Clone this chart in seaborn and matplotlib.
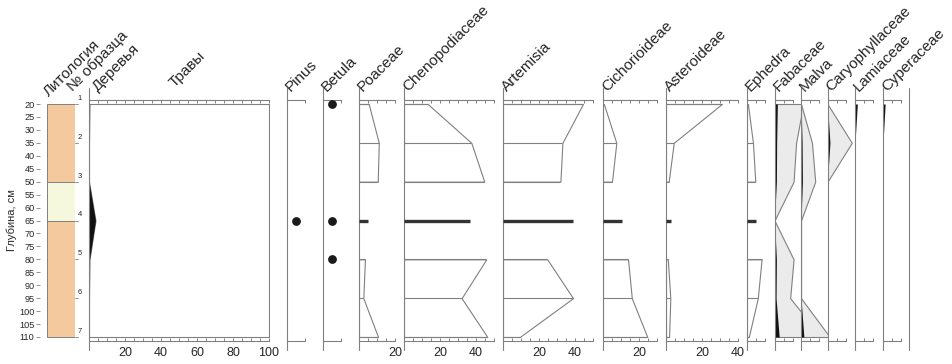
import matplotlib
matplotlib.use('Agg')
import matplotlib.pyplot as plt
import seaborn as sns
import numpy as np
from matplotlib.ticker import FixedLocator, FuncFormatter

# --- data ---
DEPTHS = [20, 35, 50, 65, 80, 95, 110]
SAMPLES = ['1', '2', '3', '4', '5', '6', '7']
SEGMENTS = [[0, 1, 2], [3], [4, 5, 6]]   # zone breaks around sample 4

LITHO_TOPS = [20, 50, 65]
LITHO_BOTS = [50, 65, 110]
LITHO_COLORS = ['#F4C99E', '#F6F8DD', '#F4C99E']

TREES = [0.3, 0.0, 0.0, 3.6, 0.3, 0.0, 0.0]
PINUS = [0, 0, 0, 1, 0, 0, 0]
BETULA = [1, 0, 0, 1, 1, 0, 0]
POACEAE = [5.4, 11.0, 10.4, 5.0, 3.3, 2.4, 10.6]
CHENOPODIACEAE = [13.2, 37.4, 44.6, 36.7, 45.7, 32.0, 46.3]
ARTEMISIA = [44.4, 33.0, 31.9, 38.9, 24.6, 38.9, 9.3]
CICHORIOIDEAE = [0.5, 7.4, 5.0, 10.5, 13.9, 16.0, 24.6]
ASTEROIDEAE = [31.0, 4.3, 1.5, 2.8, 1.0, 2.4, 1.7]
EPHEDRA = [0.5, 3.3, 4.6, 5.0, 8.1, 6.0, 1.0]
FABACEAE = [1.6, 1.2, 1.06, 0.0, 1.06, 0.87, 2.6]
MALVA = [0.0, 0.61, 0.79, 0.0, 0.0, 0.0, 1.6]
CARYOPHYLLACEAE = [0.0, 1.35, 0.0, 0.0, 0.0, 0.0, 0.0]
LAMIACEAE = [1.3, 0.0, 0.0, 0.0, 0.0, 0.0, 0.0]
CYPERACEAE = [1.2, 0.0, 0.0, 0.0, 0.0, 0.0, 0.0]
EXAG = 10

# --- layout (pixels) ---
W, H = 952, 364
PX_PER_PCT = 1.8
Y_TOP, Y_BOT = 99.5, 341.0
D_PX = (337.0 - 104.0) / 90.0
YLIM = (110 + (Y_BOT - 337.0) / D_PX, 20 - (104.0 - Y_TOP) / D_PX)
LINE = '#808080'
TXT = '#262626'

sns.set_style('white')
plt.rcParams['font.family'] = ['Liberation Sans', 'DejaVu Sans']

fig = plt.figure(figsize=(W / 100, H / 100), dpi=100)


def new_ax(x0, width):
    ax = fig.add_axes([x0 / W, 1 - Y_BOT / H, width / W, (Y_BOT - Y_TOP) / H])
    ax.set_ylim(*YLIM)
    ax.patch.set_alpha(0)
    return ax


def pct_frame(ax, x0, width, tickmax, ticks=None, extend_right=False):
    ax.set_xlim(0, width / PX_PER_PCT)
    for s in ['left', 'right']:
        ax.spines[s].set_visible(False)
    for s in ['top', 'bottom']:
        ax.spines[s].set_bounds(0, tickmax)
        ax.spines[s].set_color(LINE)
        ax.spines[s].set_linewidth(0.8)
    if ticks is None:
        ticks = list(np.arange(0, tickmax + 0.1, 5))
    ax.xaxis.set_major_locator(FixedLocator(ticks))
    ax.xaxis.set_major_formatter(FuncFormatter(
        lambda v, p: f'{int(v)}' if v > 0 and abs(v % 20) < 1e-6 else ''))
    ax.tick_params(axis='x', which='both', top=True, bottom=True, labeltop=False,
                   labelbottom=True, direction='in', length=2.5, width=0.7,
                   color=LINE, labelsize=9, labelcolor=TXT, pad=4)
    ax.set_yticks([])
    ax.plot([0, 0], [-0.037, 1.048], transform=ax.transAxes, color=LINE,
            lw=0.8, clip_on=False)
    if extend_right:
        ax.plot([1, 1], [-0.037, 1.048], transform=ax.transAxes, color=LINE,
                lw=0.8, clip_on=False)


def header(x, y, text):
    fig.text(x / W, 1 - y / H, text, rotation=45, rotation_mode='anchor',
             ha='left', va='baseline', fontsize=11, color=TXT)


# --- lithology + depth axis ---
ax_l = new_ax(47, 28)
for top, bot, c in zip(LITHO_TOPS, LITHO_BOTS, LITHO_COLORS):
    ax_l.axhspan(top, bot, xmin=0, xmax=1, facecolor=c, edgecolor=LINE, lw=0.7)
ax_l.set_xlim(0, 1)
ax_l.set_xticks([])
for s in ['top', 'right', 'bottom']:
    ax_l.spines[s].set_visible(False)
ax_l.spines['left'].set_position(('outward', 5))
ax_l.spines['left'].set_visible(False)
ax_l.set_yticks(np.arange(20, 111, 5))
ax_l.tick_params(axis='y', direction='out', length=3, width=0.6, color=LINE,
                 labelsize=6.6, labelcolor=TXT, pad=1, left=True)
trans = ax_l.get_yaxis_transform()
for d, s in zip(DEPTHS, SAMPLES):
    ax_l.plot([1.0, 1.11], [d, d], transform=trans, color=LINE, lw=0.6, clip_on=False)
    ax_l.text(1.1, d - 0.8, s, transform=trans, fontsize=5.5, color=TXT,
              ha='left', va='bottom', clip_on=False)
fig.text(12 / W, 1 - 220 / H, 'Глубина, см', rotation=90, ha='center',
         va='center', fontsize=8, color=TXT)

# --- trees / herbs ---
ax_h = new_ax(89, 180)
pct_frame(ax_h, 89, 180, 100)
herbs = [100 - t for t in TREES]
ax_h.fill_betweenx(DEPTHS, TREES, [t + h for t, h in zip(TREES, herbs)],
                   facecolor='white', edgecolor=LINE, lw=0.8)
ax_h.fill_betweenx(DEPTHS, 0, TREES, facecolor='#111111', lw=0)

# --- taxa panels ---
PANELS = [
    ('Pinus', PINUS, 287, 20, 10, 'dot'),
    ('Betula', BETULA, 323, 20, 10, 'dot'),
    ('Poaceae', POACEAE, 359, 37, 20, 'bar'),
    ('Chenopodiaceae', CHENOPODIACEAE, 404, 91, 50, 'bar'),
    ('Artemisia', ARTEMISIA, 503, 91, 50, 'bar'),
    ('Cichorioideae', CICHORIOIDEAE, 603, 55, 30, 'bar'),
    ('Asteroideae', ASTEROIDEAE, 666, 73, 40, 'bar'),
    ('Ephedra', EPHEDRA, 747, 27.5, 10, 'bar'),
    ('Fabaceae', FABACEAE, 774.5, 26.5, 10, 'exag'),
    ('Malva', MALVA, 801, 26.5, 10, 'exag'),
    ('Caryophyllaceae', CARYOPHYLLACEAE, 827.5, 27.5, 10, 'exag'),
    ('Lamiaceae', LAMIACEAE, 855, 28, 10, 'black'),
    ('Cyperaceae', CYPERACEAE, 883, 26, 10, 'black'),
]

for name, vals, x0, width, tmax, style in PANELS:
    ax = new_ax(x0, width)
    ticks = [tmax] if style == 'dot' else None
    pct_frame(ax, x0, width, tmax, ticks=ticks, extend_right=(name == 'Cyperaceae'))
    if style == 'dot':
        dd = [d for d, v in zip(DEPTHS, vals) if v > 0]
        ax.scatter([5] * len(dd), dd, s=28, color='#1a1a1a', zorder=3, clip_on=False)
    elif style == 'bar':
        for seg in SEGMENTS:
            d = [DEPTHS[i] for i in seg]
            v = [vals[i] for i in seg]
            if len(seg) == 1:
                ax.hlines(d, 0, v, color='#333333', lw=2.4)
            else:
                ax.fill_betweenx(d, 0, v, facecolor='white', edgecolor=LINE, lw=0.8)
                ax.hlines(d, 0, v, color=LINE, lw=0.8)
    elif style == 'exag':
        ax.fill_betweenx(DEPTHS, 0, [v * EXAG for v in vals], facecolor='#EBEBEB',
                         edgecolor=LINE, lw=0.8)
        ax.fill_betweenx(DEPTHS, 0, vals, facecolor='#111111', lw=0)
    else:
        ax.fill_betweenx(DEPTHS, 0, vals, facecolor='#111111', lw=0)
    header(x0 + 4, 92, name)

header(49, 97, 'Литология')
header(73, 92, '№ образца')
header(98, 92, 'Деревья')
header(175, 88, 'Травы')

fig.savefig('out.png', dpi=100)
